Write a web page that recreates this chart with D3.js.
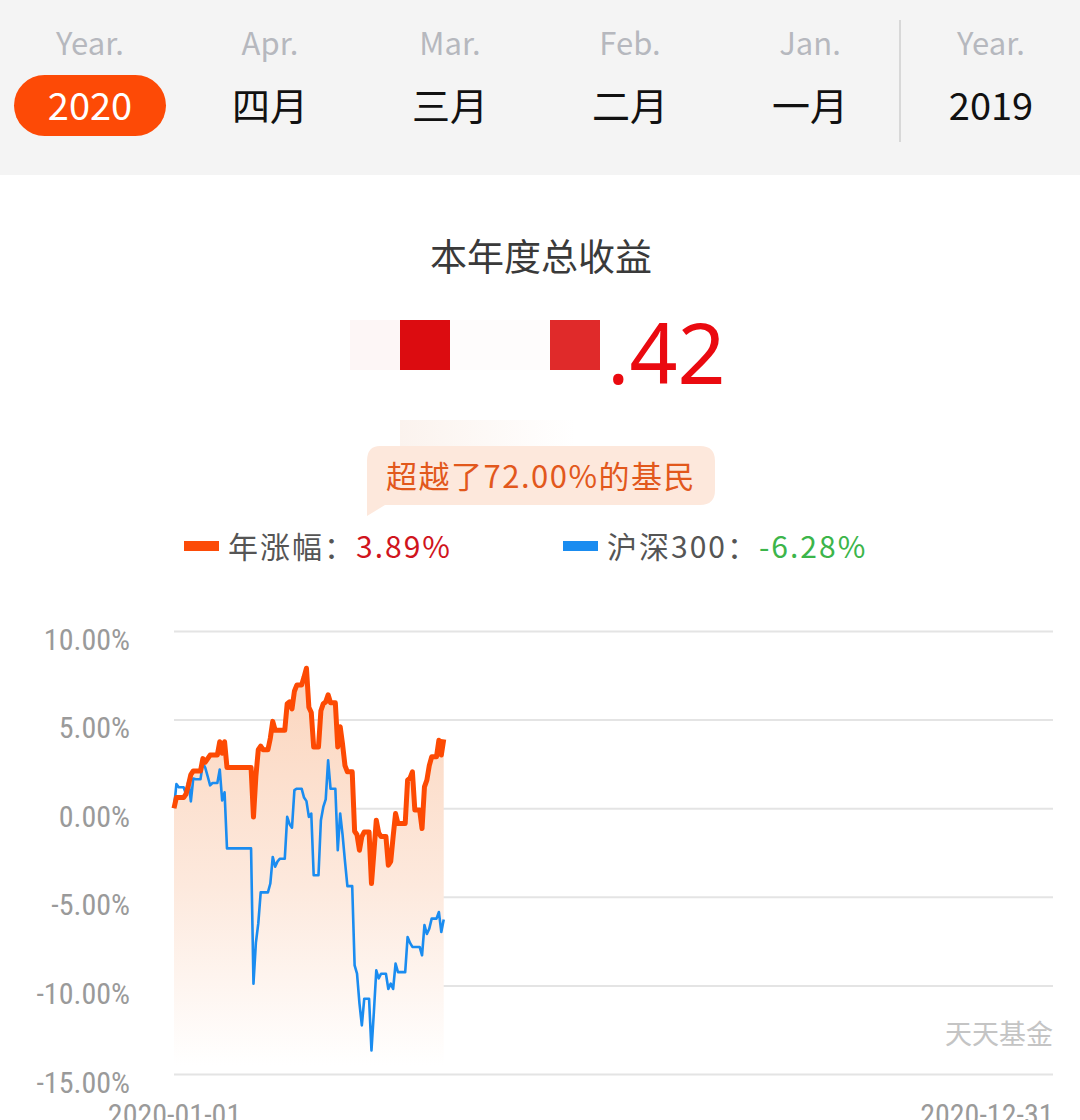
<!DOCTYPE html>
<html>
<head>
<meta charset="utf-8">
<script src="https://cdn.jsdelivr.net/npm/d3@7"></script>
<style>
  body { margin: 0; background: #fff; overflow: hidden; }
  svg { display: block; }
</style>
</head>
<body>
<script>

// tab bar
var tabTop = ["Year.", "Apr.", "Mar.", "Feb.", "Jan.", "Year."];
var tabBottom = ["2020", "四月", "三月", "二月", "一月", "2019"];

// summary texts
var titleText = "本年度总收益";
var amountTail = ".42";
var rankText = "超越了72.00%的基民";
var legendNames = ["年涨幅：", "沪深300："];
var legendValues = ["3.89%", "-6.28%"];

// chart
var yTicks = [10, 5, 0, -5, -10, -15];
var xTicks = ["2020-01-01", "2020-12-31"];

// daily points as drawn (non-trading days keep the last value, so they show flat)
var dates = [
  "2020-01-01","2020-01-02","2020-01-03","2020-01-05","2020-01-06","2020-01-07","2020-01-08",
  "2020-01-09","2020-01-10","2020-01-12","2020-01-13","2020-01-14","2020-01-15","2020-01-16",
  "2020-01-17","2020-01-19","2020-01-20","2020-01-21","2020-01-22","2020-01-23","2020-02-02",
  "2020-02-03","2020-02-04","2020-02-05","2020-02-06","2020-02-07","2020-02-09","2020-02-10",
  "2020-02-11","2020-02-12","2020-02-13","2020-02-14","2020-02-16","2020-02-17","2020-02-18",
  "2020-02-19","2020-02-20","2020-02-21","2020-02-23","2020-02-24","2020-02-25","2020-02-26",
  "2020-02-27","2020-02-28","2020-03-01","2020-03-02","2020-03-03","2020-03-04","2020-03-05",
  "2020-03-06","2020-03-08","2020-03-09","2020-03-10","2020-03-11","2020-03-12","2020-03-13",
  "2020-03-15","2020-03-16","2020-03-17","2020-03-18","2020-03-19","2020-03-20","2020-03-22",
  "2020-03-23","2020-03-24","2020-03-25","2020-03-26","2020-03-27","2020-03-29","2020-03-30",
  "2020-03-31","2020-04-01","2020-04-02","2020-04-03","2020-04-06","2020-04-07","2020-04-08",
  "2020-04-09","2020-04-10","2020-04-12","2020-04-13","2020-04-14","2020-04-15","2020-04-16",
  "2020-04-17","2020-04-19","2020-04-20","2020-04-21","2020-04-22"];

var fund = [
  0, 0.6, 0.6, 0.6, 0.8, 1.3, 1.9,
  2.1, 2.1, 2.1, 2.8, 2.6, 2.8, 3.0,
  3.0, 3.0, 3.75, 3.1, 3.75, 2.3, 2.3,
  -0.5, 1.8, 3.3, 3.5, 3.3, 3.3, 3.95,
  4.9, 4.4, 4.4, 4.4, 4.4, 5.9, 6.0,
  5.6, 6.6, 6.95, 6.95, 7.4, 7.9, 5.7,
  5.4, 3.45, 3.45, 5.5, 5.9, 6.0, 6.4,
  5.95, 5.95, 3.45, 4.6, 3.6, 2.4, 2.05,
  2.05, -1.3, -1.5, -2.37, -1.6, -1.34, -1.34,
  -4.25, -2.5, -0.68, -1.4, -1.6, -1.6, -3.22,
  -3.0, -1.6, -0.3, -0.87, -0.87, 1.58, 1.7,
  2.05, -0.1, -0.1, -1.15, 1.2, 1.58, 2.4,
  2.9, 2.9, 3.84, 3.0, 3.89];

var hs300 = [
  0, 1.36, 1.18, 1.18, 0.8, 1.55, 0.38,
  1.67, 1.63, 1.63, 2.55, 2.28, 1.79, 1.29,
  1.42, 1.42, 2.18, 0.44, 0.9, -2.27, -2.27,
  -9.9, -7.6, -6.5, -4.75, -4.75, -4.75, -4.25,
  -2.75, -3.3, -3.0, -2.85, -2.85, -0.49, -0.9,
  -1.1, 1.02, 1.1, 1.1, 0.6, 0.4, -0.49,
  -0.3, -3.78, -3.78, -0.68, 0.07, 0.5, 2.7,
  1.1, 1.1, -2.37, -0.3, -1.5, -3.0, -4.4,
  -4.4, -8.87, -9.34, -11.0, -12.26, -10.75, -10.75,
  -13.67, -11.5, -9.15, -9.6, -9.34, -9.34, -10.2,
  -9.9, -10.2, -8.77, -9.25, -9.25, -7.27, -7.6,
  -7.83, -7.83, -7.83, -8.3, -6.6, -7.1, -6.8,
  -6.23, -6.23, -5.86, -6.99, -6.28];

var parse = d3.timeParse("%Y-%m-%d");
var fundData = dates.map(function(d, i) { return { date: parse(d), value: fund[i] }; });
var hsData = dates.map(function(d, i) { return { date: parse(d), value: hs300[i] }; });

var cjk = "'Noto Sans CJK SC', 'Noto Sans', sans-serif";
var narrow = "'Liberation Sans Narrow', 'Roboto Condensed', 'DejaVu Sans Condensed', sans-serif";

var svg = d3.select("body").append("svg")
    .attr("width", 1080)
    .attr("height", 1120);

var defs = svg.append("defs");

// ---------- tab bar ----------
svg.append("rect")
    .attr("x", 0).attr("y", 0)
    .attr("width", 1080).attr("height", 175)
    .attr("fill", "#f4f4f4");

// last tab sits a little further right, past the divider
var tabPos = function(i) { return i < 5 ? 90 + i * 180 : 991; };

svg.append("rect")
    .attr("x", 14).attr("y", 75)
    .attr("width", 152).attr("height", 61)
    .attr("rx", 30.5)
    .attr("fill", "#fd4a06");

svg.append("line")
    .attr("x1", 900).attr("x2", 900)
    .attr("y1", 20).attr("y2", 142)
    .attr("stroke", "#d8d8d8")
    .attr("stroke-width", 2);

svg.selectAll(".tabTop")
    .data(tabTop)
    .enter().append("text")
    .attr("class", "tabTop")
    .attr("x", function(d, i) { return tabPos(i); })
    .attr("y", 55)
    .attr("text-anchor", "middle")
    .attr("font-family", cjk)
    .attr("font-size", "31px")
    .attr("fill", "#b6b8be")
    .text(function(d) { return d; });

svg.selectAll(".tabBottom")
    .data(tabBottom)
    .enter().append("text")
    .attr("class", "tabBottom")
    .attr("x", function(d, i) { return tabPos(i); })
    .attr("y", 120)
    .attr("text-anchor", "middle")
    .attr("font-family", cjk)
    .attr("font-size", "38px")
    .attr("fill", function(d, i) { return i === 0 ? "#ffffff" : "#111111"; })
    .text(function(d) { return d; });

// ---------- summary ----------
svg.append("text")
    .attr("x", 541).attr("y", 271)
    .attr("text-anchor", "middle")
    .attr("font-family", cjk)
    .attr("font-size", "37px")
    .attr("fill", "#3a3a3a")
    .text(titleText);

// masked digits
svg.append("rect").attr("x", 350).attr("y", 320).attr("width", 50).attr("height", 50).attr("fill", "#fdf6f6");
svg.append("rect").attr("x", 400).attr("y", 320).attr("width", 50).attr("height", 50).attr("fill", "#dc0c10");
svg.append("rect").attr("x", 450).attr("y", 320).attr("width", 100).attr("height", 50).attr("fill", "#fefcfc");
svg.append("rect").attr("x", 550).attr("y", 320).attr("width", 50).attr("height", 50).attr("fill", "#e02a2a");

svg.append("text")
    .attr("x", 607).attr("y", 384)
    .attr("font-family", "'Noto Sans', sans-serif")
    .attr("font-size", "84px")
    .attr("fill", "#ea0a10")
    .text(amountTail);

// faint strip above bubble
var strip = defs.append("linearGradient").attr("id", "strip")
    .attr("x1", 0).attr("x2", 1).attr("y1", 0).attr("y2", 0);
strip.append("stop").attr("offset", "0%").attr("stop-color", "#fbf3ee");
strip.append("stop").attr("offset", "100%").attr("stop-color", "#ffffff");
svg.append("rect").attr("x", 400).attr("y", 420).attr("width", 175).attr("height", 26).attr("fill", "url(#strip)");

// rank bubble
svg.append("path")
    .attr("d", "M380,446 H700 Q715,446 715,461 V490 Q715,505 700,505 H385 L367,516 L367,461 Q367,446 380,446 Z")
    .attr("fill", "#fde8dc");

svg.append("text")
    .attr("x", 541).attr("y", 488)
    .attr("text-anchor", "middle")
    .attr("font-family", cjk)
    .attr("font-size", "31px")
    .attr("letter-spacing", "1.5px")
    .attr("fill", "#e2581c")
    .text(rankText);

// legend
var legendX = [184, 563];
var legendColors = ["#fc4b08", "#1a8cf0"];
var legendValueColors = ["#d0141c", "#3cb54a"];

legendNames.forEach(function(name, i) {
  svg.append("rect")
      .attr("x", legendX[i]).attr("y", 541)
      .attr("width", 35).attr("height", 10)
      .attr("fill", legendColors[i]);
  var t = svg.append("text")
      .attr("x", legendX[i] + 44).attr("y", 558)
      .attr("font-family", cjk)
      .attr("font-size", "30px")
      .attr("letter-spacing", "2px");
  t.append("tspan").attr("fill", "#555").text(name);
  t.append("tspan").attr("fill", legendValueColors[i]).text(legendValues[i]);
});

// ---------- chart ----------
var x = d3.scaleTime()
    .domain([parse(xTicks[0]), parse(xTicks[1])])
    .range([174, 1053]);

var y = d3.scaleLinear()
    .domain([-15, 10])
    .range([1074, 631]);

var yAxis = svg.append("g")
    .attr("transform", "translate(174,0)")
    .call(d3.axisLeft(y)
      .tickValues(yTicks)
      .tickSize(-879)
      .tickPadding(44)
      .tickFormat(function(d) { return d.toFixed(2) + "%"; }));

yAxis.select(".domain").remove();
yAxis.selectAll(".tick line")
    .attr("stroke", "#e4e4e4")
    .attr("stroke-width", 2);
yAxis.selectAll(".tick text")
    .attr("dy", "0.6em")
    .attr("font-family", narrow)
    .attr("font-size", "30px")
    .attr("fill", "#9a9a9a");

// area under fund line
var grad = defs.append("linearGradient").attr("id", "fundFill")
    .attr("gradientUnits", "userSpaceOnUse")
    .attr("x1", 0).attr("x2", 0)
    .attr("y1", y(8)).attr("y2", y(-14.5));
grad.append("stop").attr("offset", "0%").attr("stop-color", "#fbd5bd");
grad.append("stop").attr("offset", "55%").attr("stop-color", "#fde9dd");
grad.append("stop").attr("offset", "100%").attr("stop-color", "#ffffff");

var area = d3.area()
    .x(function(d) { return x(d.date); })
    .y0(y(-14.6))
    .y1(function(d) { return y(d.value); });

svg.append("path")
    .datum(fundData)
    .attr("d", area)
    .attr("fill", "url(#fundFill)");

var line = d3.line()
    .x(function(d) { return x(d.date); })
    .y(function(d) { return y(d.value); });

svg.append("path")
    .datum(hsData)
    .attr("d", line)
    .attr("fill", "none")
    .attr("stroke", "#1a8cf0")
    .attr("stroke-width", 2.6)
    .attr("stroke-linejoin", "round");

svg.append("path")
    .datum(fundData)
    .attr("d", line)
    .attr("fill", "none")
    .attr("stroke", "#fd4a03")
    .attr("stroke-width", 5)
    .attr("stroke-linejoin", "round");

// x labels (cut by the bottom edge, as on the phone screen)
var xAxis = svg.append("g")
    .attr("transform", "translate(0,1074)")
    .call(d3.axisBottom(x)
      .tickValues(xTicks.map(parse))
      .tickSize(0)
      .tickPadding(30)
      .tickFormat(d3.timeFormat("%Y-%m-%d")));
xAxis.select(".domain").remove();
xAxis.selectAll(".tick text")
    .attr("dy", "0.71em")
    .attr("text-anchor", function(d, i) { return i === 0 ? "middle" : "end"; })
    .attr("font-family", narrow)
    .attr("font-size", "30px")
    .attr("fill", "#9a9a9a");

// watermark
svg.append("text")
    .attr("x", 1053).attr("y", 1044)
    .attr("text-anchor", "end")
    .attr("font-family", cjk)
    .attr("font-size", "27px")
    .attr("fill", "#c4c4c4")
    .text("天天基金");

</script>
</body>
</html>
